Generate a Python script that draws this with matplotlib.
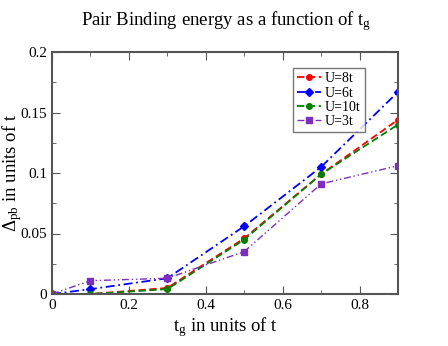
import matplotlib
matplotlib.use("Agg")
import matplotlib.pyplot as plt
from matplotlib.ticker import MultipleLocator

plt.rcParams['font.family'] = ['Liberation Serif', 'DejaVu Serif']
plt.rcParams['mathtext.fontset'] = 'custom'
plt.rcParams['mathtext.rm'] = 'Liberation Serif'
plt.rcParams['mathtext.it'] = 'Liberation Serif'

tg = [0, 0.1, 0.3, 0.5, 0.7, 0.9]
u8 = [0, 0.0, 0.005, 0.046, 0.099, 0.144]
u6 = [0, 0.004, 0.013, 0.056, 0.105, 0.167]
u10 = [0, 0.0, 0.004, 0.045, 0.099, 0.140]
u3 = [0, 0.011, 0.013, 0.035, 0.091, 0.106]

fig = plt.figure(figsize=(4.48, 3.46), dpi=100)
ax = fig.add_axes([52/448, 1-294/346, (398-52)/448, (294-52)/346])

ax.plot(tg, u8, color='#ff0000', ls=(0, (4, 2)), lw=1.3, marker='o', ms=4, label='U=8t')
ax.plot(tg, u6, color='#0000ff', ls=(0, (5, 2, 1, 2)), lw=1.3, marker='D', ms=4, label='U=6t')
ax.plot(tg, u10, color='#008000', ls=(0, (4, 2)), lw=1.3, marker='o', ms=4, label='U=10t')
ax.plot(tg, u3, color='#7b2fbe', ls=(0, (5, 2, 1, 2, 1, 2)), lw=1.0, marker='s', ms=4, label='U=3t')

ax.set_xlim(0, 0.9)
ax.set_ylim(0, 0.2)
ax.xaxis.set_minor_locator(MultipleLocator(0.1))
ax.yaxis.set_minor_locator(MultipleLocator(0.025))
ax.set_xticks([0, 0.2, 0.4, 0.6, 0.8])
ax.set_xticklabels(['0', '0.2', '0.4', '0.6', '0.8'])
ax.set_yticks([0, 0.05, 0.1, 0.15, 0.2])
ax.set_yticklabels(['0', '0.05', '0.1', '0.15', '0.2'])
ax.tick_params(which='both', direction='in', top=True, right=True, color='#555555', labelsize=11)
ax.tick_params(which='major', length=6)
ax.tick_params(which='minor', length=3)
for s in ax.spines.values():
    s.set_color('#555555')
    s.set_linewidth(1.5)

ax.set_xlabel(r'$\mathrm{t_g}$ in units of t', fontsize=13.5, labelpad=2)
ax.set_ylabel(r'$\Delta_{\mathrm{pb}}$ in units of t', fontsize=13.5)
ax.yaxis.set_label_coords(-0.115, 0.5)
ax.yaxis.label.set_va('center')
fig.suptitle(r'Pair Binding energy as a function of $\mathrm{t_g}$', fontsize=13.5, y=0.975, x=0.505)

leg = ax.legend(loc='upper left', bbox_to_anchor=(0.697, 0.934), fontsize=10, frameon=True,
                fancybox=False, edgecolor='#555555', handlelength=1.7, handletextpad=0.3,
                borderpad=0.3, labelspacing=0.1, borderaxespad=0)
leg.get_frame().set_linewidth(1.0)

fig.savefig('out.png', dpi=100)
